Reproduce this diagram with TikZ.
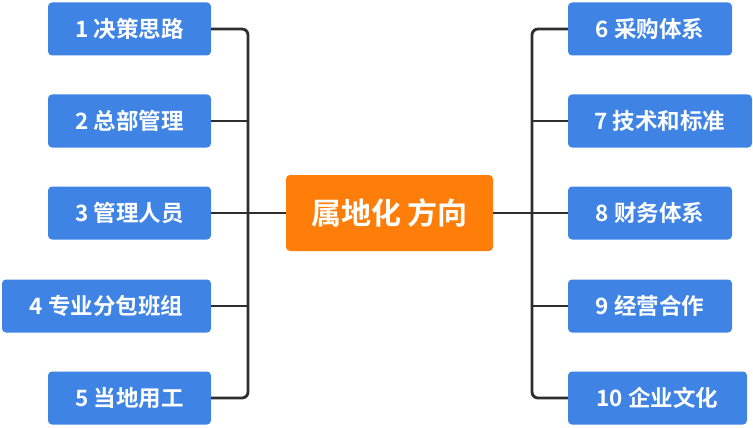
\documentclass[tikz,border=0pt]{standalone}
\usepackage{fontspec}
\newfontfamily\cjk{Noto Sans CJK SC}[BoldFont={Noto Sans CJK SC Bold}]
\definecolor{boxblue}{HTML}{3F84E5}
\definecolor{boxorange}{HTML}{FF7E0A}
\definecolor{lineg}{HTML}{2E2E2E}
\tikzset{
  leaf/.style={fill=boxblue, rounded corners=4pt, text=white, font=\cjk\bfseries\fontsize{22.5}{26}\selectfont, inner sep=0pt, minimum height=53pt},
  hub/.style={fill=boxorange, rounded corners=4pt, text=white, font=\cjk\bfseries\fontsize{30}{34}\selectfont, inner sep=0pt, minimum height=76pt, minimum width=207pt},
  conn/.style={draw=lineg, line width=2.8pt, rounded corners=6pt}
}
\begin{document}
\begin{tikzpicture}[x=1pt,y=-1pt]
\useasboundingbox (0,0) rectangle (753,428);
% center
\node[hub] (c) at (389.5,213) {属地化 方向};
% left leaves
\node[leaf, minimum width=163pt] (b1) at (129.5,29) {1 决策思路};
\node[leaf, minimum width=163pt] (b2) at (129.5,121) {2 总部管理};
\node[leaf, minimum width=163pt] (b3) at (129.5,213) {3 管理人员};
\node[leaf, minimum width=209pt] (b4) at (106.5,306) {4 专业分包班组};
\node[leaf, minimum width=163pt] (b5) at (129.5,398) {5 当地用工};
% right leaves
\node[leaf, minimum width=164pt] (b6) at (650,29) {6 采购体系};
\node[leaf, minimum width=184pt] (b7) at (660,121) {7 技术和标准};
\node[leaf, minimum width=164pt] (b8) at (650,213) {8 财务体系};
\node[leaf, minimum width=164pt] (b9) at (650,306) {9 经营合作};
\node[leaf, minimum width=179pt] (b10) at (657.5,398) {10 企业文化};
% trunks
\coordinate (lt) at (248,213);
\coordinate (rt) at (532,213);
\draw[conn] (b1.east) -| (lt) |- (b5.east);
\draw[conn] (b2.east) -- (b2.east -| lt);
\draw[conn] (b4.east) -- (b4.east -| lt);
\draw[conn] (b3.east) -- (c.west);
\draw[conn] (b6.west) -| (rt) |- (b10.west);
\draw[conn] (b7.west) -- (b7.west -| rt);
\draw[conn] (b9.west) -- (b9.west -| rt);
\draw[conn] (c.east) -- (b8.west);
\end{tikzpicture}
\end{document}
